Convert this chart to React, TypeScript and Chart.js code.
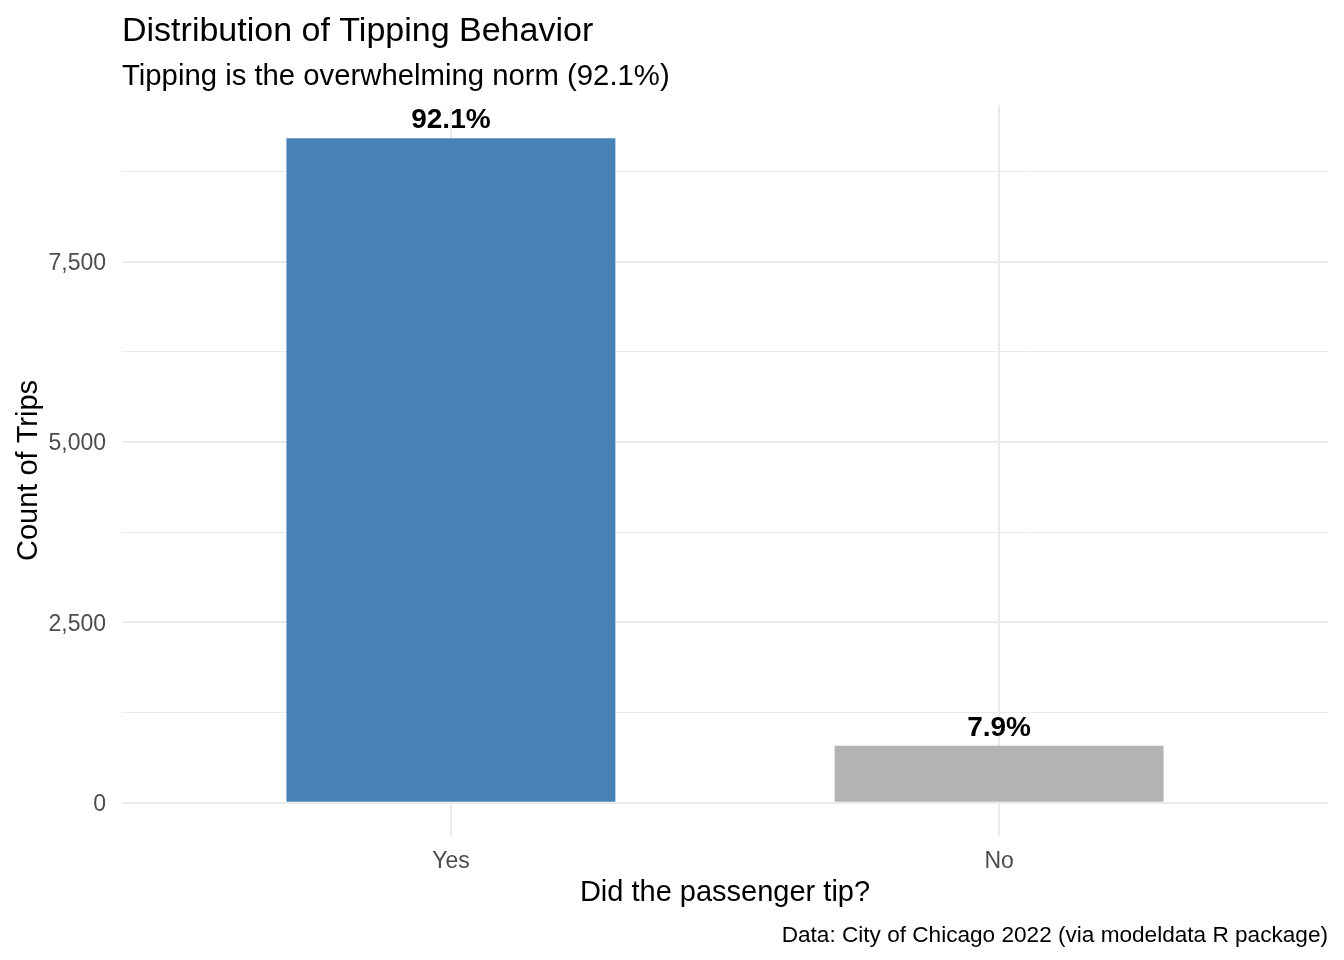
import React, { useEffect, useRef } from "react";
import { Chart, registerables } from "chart.js";

Chart.register(...registerables);

const categories: string[] = ["Yes", "No"];
const tripCounts: number[] = [9210, 790];
const barColors: string[] = ["#4682B4", "#B3B3B3"];
const majorTicks: number[] = [0, 2500, 5000, 7500];
const minorTicks: number[] = [1250, 3750, 6250, 8750];

const titleText = "Distribution of Tipping Behavior";
const xTitle = "Did the passenger tip?";
const yTitle = "Count of Trips";
const captionText = "Data: City of Chicago 2022 (via modeldata R package)";

const FONT = "'Liberation Sans', Arial, sans-serif";

export default function App() {
  const ref = useRef<HTMLCanvasElement | null>(null);

  useEffect(() => {
    if (!ref.current) return;
    const total = tripCounts.reduce((a, b) => a + b, 0);
    const pctLabels = tripCounts.map((c) => ((c / total) * 100).toFixed(1) + "%");
    const subtitleText = `Tipping is the overwhelming norm (${pctLabels[0]})`;
    const maxVal = Math.max(...tripCounts);
    const expand = maxVal * 0.05;
    const allTicks = [...majorTicks, ...minorTicks].sort((a, b) => a - b);

    const textPlugin = {
      id: "textPlugin",
      afterDatasetsDraw(chart: any) {
        const ctx = chart.ctx;
        const meta = chart.getDatasetMeta(0);
        ctx.save();
        ctx.fillStyle = "#000000";
        ctx.font = `bold 28px ${FONT}`;
        ctx.textAlign = "center";
        ctx.textBaseline = "alphabetic";
        meta.data.forEach((bar: any, i: number) => {
          ctx.fillText(pctLabels[i], bar.x, bar.y - 10);
        });
        ctx.restore();
      },
      afterDraw(chart: any) {
        const ctx = chart.ctx;
        const area = chart.chartArea;
        ctx.save();
        ctx.fillStyle = "#000000";
        ctx.textBaseline = "alphabetic";
        ctx.textAlign = "left";
        ctx.font = `34px ${FONT}`;
        ctx.fillText(titleText, area.left, 41);
        ctx.font = `29.3px ${FONT}`;
        ctx.fillText(subtitleText, area.left, 85);
        ctx.textAlign = "center";
        ctx.font = `29px ${FONT}`;
        ctx.fillText(xTitle, (area.left + area.right) / 2, 901);
        ctx.textAlign = "right";
        ctx.font = `22.6px ${FONT}`;
        ctx.fillText(captionText, area.right, 942);
        ctx.save();
        ctx.translate(37, (area.top + area.bottom) / 2);
        ctx.rotate(-Math.PI / 2);
        ctx.textAlign = "center";
        ctx.font = `29px ${FONT}`;
        ctx.fillText(yTitle, 0, 0);
        ctx.restore();
        ctx.restore();
      },
    };

    const chart = new Chart(ref.current, {
      type: "bar",
      data: {
        datasets: [
          {
            data: tripCounts.map((c, i) => ({ x: i, y: c })),
            backgroundColor: barColors,
            borderWidth: 0,
            barPercentage: 0.6,
            categoryPercentage: 1,
          },
        ],
      },
      options: {
        responsive: false,
        animation: false,
        layout: { padding: { top: 105, right: 16, left: 0, bottom: 0 } },
        plugins: {
          legend: { display: false },
          tooltip: { enabled: false },
          title: { display: false },
        },
        scales: {
          x: {
            type: "linear",
            offset: false,
            min: -0.6,
            max: 1.6,
            afterBuildTicks: (scale: any) => {
              scale.ticks = categories.map((_, i) => ({ value: i }));
            },
            afterFit: (scale: any) => {
              scale.height = 124;
            },
            grid: {
              offset: false,
              color: "#EBEBEB",
              lineWidth: 2,
              drawTicks: false,
            },
            border: { display: false },
            ticks: {
              padding: 12,
              color: "#4D4D4D",
              font: { family: FONT, size: 23 },
              autoSkip: false,
              maxRotation: 0,
              callback: (v: any) => categories[Math.round(Number(v))] ?? "",
            },
          },
          y: {
            type: "linear",
            min: -expand,
            max: maxVal + expand,
            afterBuildTicks: (scale: any) => {
              scale.ticks = allTicks.map((v) => ({ value: v }));
            },
            afterFit: (scale: any) => {
              scale.width = 122;
            },
            grid: {
              color: "#EBEBEB",
              lineWidth: (c: any) => (majorTicks.includes(c.tick?.value) ? 2 : 1),
              drawTicks: false,
            },
            border: { display: false },
            ticks: {
              padding: 16,
              labelOffset: 2,
              color: "#4D4D4D",
              font: { family: FONT, size: 23 },
              callback: (v: any) =>
                majorTicks.includes(Number(v)) ? Number(v).toLocaleString("en-US") : "",
            },
          },
        },
      },
      plugins: [textPlugin],
    } as any);

    return () => chart.destroy();
  }, []);

  return (
    <div style={{ position: "fixed", left: 0, top: 0, width: 1344, height: 960, background: "#ffffff" }}>
      <canvas ref={ref} width={1344} height={960} />
    </div>
  );
}
